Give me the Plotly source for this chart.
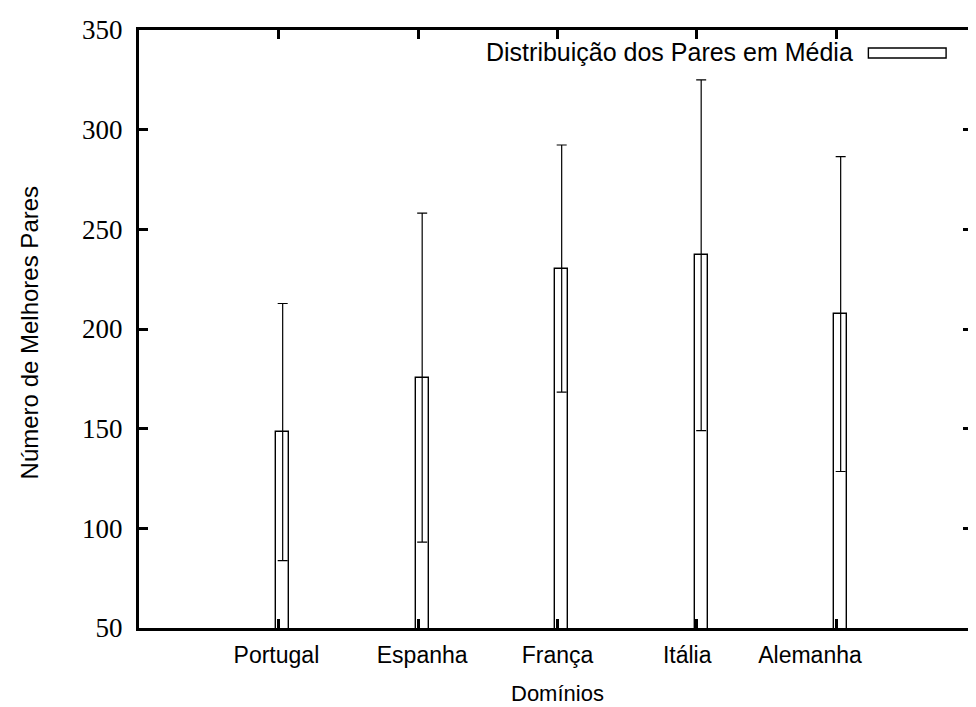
import plotly.graph_objects as go

# ---- data ----
dominios = ["Portugal", "Espanha", "França", "Itália", "Alemanha"]
positions = [1, 2, 3, 4, 5]
label_positions = [0.985, 2.03, 3.0, 3.93, 4.81]
media = [148.3, 175.6, 230.3, 237.0, 207.5]
desvio = [64.5, 82.5, 62.0, 88.0, 79.0]
y_ticks = [50, 100, 150, 200, 250, 300, 350]

legend_label = "Distribuição dos Pares em Média"
x_title = "Domínios"
y_title = "Número de Melhores Pares"

# ---- style ----
BAR_SHIFT = 0.03
BAR_WIDTH = 0.095
OFF = 8  # default page margin of the html body
W, H = 976 - OFF, 707 - OFF
ML, MR, MT, MB = 139 - OFF, 1, 30 - OFF, 79
PW = W - ML - MR
PH = H - MT - MB
X_RANGE = [0, PW / 140.0]

def px_x(p):
    return (p - OFF - ML) / PW

def px_y(p):
    return (H - MB - (p - OFF)) / PH

sans = "Liberation Sans, Arial, sans-serif"
serif = "Liberation Serif, Times New Roman, serif"

fig = go.Figure()
fig.add_trace(go.Bar(
    x=[p + BAR_SHIFT for p in positions],
    y=media,
    width=BAR_WIDTH,
    marker=dict(color="white", line=dict(color="black", width=1.4)),
    error_y=dict(type="data", array=desvio, visible=True,
                 color="black", thickness=1.2, width=5),
    showlegend=False,
    name=legend_label,
))
# invisible helper trace carrying the category label axis
fig.add_trace(go.Scatter(
    x=label_positions, y=media, xaxis="x2", mode="markers",
    marker=dict(opacity=0), hoverinfo="skip", showlegend=False,
))

axis_common = dict(
    showgrid=False, zeroline=False,
    showline=True, linecolor="black", linewidth=3,
    ticks="inside", tickcolor="black", tickwidth=3, ticklen=9,
    mirror="ticks",
)

fig.update_layout(
    xaxis=dict(
        range=X_RANGE,
        tickmode="array", tickvals=positions, showticklabels=False,
        **axis_common,
    ),
    xaxis2=dict(
        range=X_RANGE, overlaying="x", anchor="y", side="bottom",
        showgrid=False, zeroline=False, showline=False, ticks="",
        tickmode="array", tickvals=label_positions, ticktext=dominios,
        tickfont=dict(family=sans, size=23, color="black"),
        ticklabelstandoff=11,
    ),
    yaxis=dict(
        range=[50, 350],
        tickmode="array", tickvals=y_ticks, ticktext=[str(v) for v in y_ticks],
        tickfont=dict(family=serif, size=27, color="black"),
        ticklabelstandoff=8,
        **axis_common,
    ),
)

fig.update_layout(
    width=W, height=H, autosize=False,
    margin=dict(l=ML, r=MR, t=MT, b=MB, pad=0),
    plot_bgcolor="white", paper_bgcolor="white",
    bargap=0,
    annotations=[
        dict(text=legend_label, xref="paper", yref="paper",
             x=px_x(858), y=px_y(52), xanchor="right", yanchor="middle",
             showarrow=False, font=dict(family=sans, size=25, color="black")),
        dict(text=x_title, xref="paper", yref="paper",
             x=px_x(559), y=px_y(693), xanchor="center", yanchor="middle",
             showarrow=False, font=dict(family=sans, size=22, color="black")),
        dict(text=y_title, xref="paper", yref="paper",
             x=px_x(29), y=px_y(333), xanchor="center", yanchor="middle",
             textangle=-90,
             showarrow=False, font=dict(family=sans, size=24, color="black")),
    ],
    shapes=[
        dict(type="rect", xref="paper", yref="paper",
             x0=px_x(871), x1=px_x(949), y0=px_y(58), y1=px_y(48),
             line=dict(color="black", width=1.4), fillcolor="white"),
    ],
)

fig.write_html("out.html")
